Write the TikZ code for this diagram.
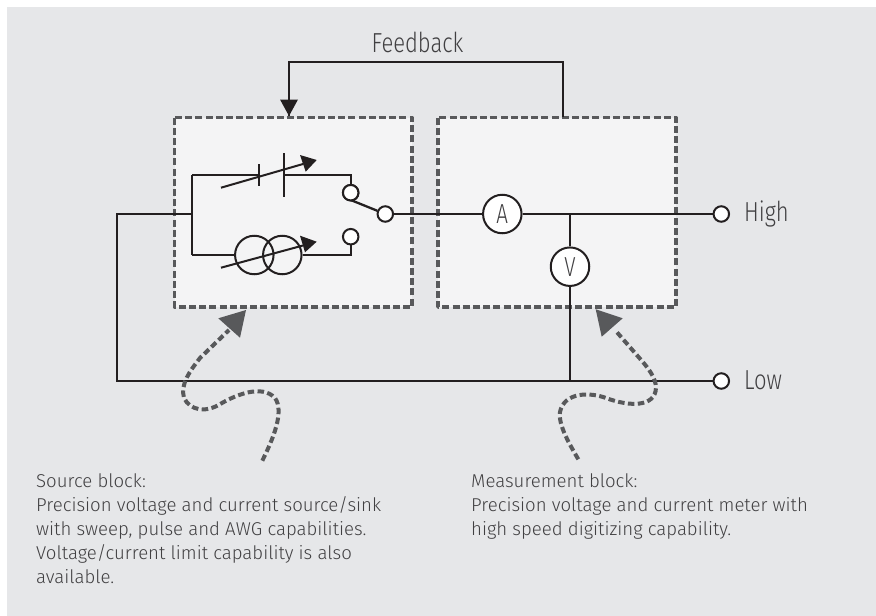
\documentclass[tikz,border=0pt]{standalone}
\usepackage{fontspec}
\setmainfont{Fira Sans}[UprightFont=* Light]
\usetikzlibrary{arrows.meta}
\definecolor{bgc}{HTML}{E6E7E9}
\definecolor{blockc}{HTML}{F4F4F5}
\definecolor{dashc}{HTML}{58595B}
\definecolor{wirec}{HTML}{231F20}
\definecolor{textc}{HTML}{414042}
\tikzset{
  x=1pt,y=-1pt,
  blockbox/.style={draw=dashc,fill=blockc,line width=3.6pt,dash pattern=on 7pt off 3.2pt,line join=round},
  wire/.style={draw=wirec,line width=2.3pt},
  terminal/.style={circle,draw=wirec,fill=white,line width=2pt,minimum size=15.5pt,inner sep=0pt},
  meter/.style={circle,draw=wirec,fill=white,line width=2pt,minimum size=38.5pt,inner sep=0pt,text=textc},
  coil/.style={circle,draw=wirec,line width=2pt,minimum size=38.5pt,inner sep=0pt},
  squiggle/.style={draw=dashc,line width=4pt,dash pattern=on 6.5pt off 3.4pt},
  headfill/.style={fill=dashc},
  tipfill/.style={fill=wirec},
  blurb/.style={anchor=north west,align=left,inner sep=0pt,text=textc,font=\fontsize{18.6}{24}\selectfont},
  cond/.style={text=textc,inner sep=0pt,font=\fontsize{27.5}{30}\selectfont},
}
\newcommand{\narrowtxt}[1]{\scalebox{0.8}[1]{#1}}
\begin{document}
\begin{tikzpicture}
\useasboundingbox (0,0) rectangle (876,616);
\fill[bgc] (7,7) rectangle (876,616);
% blocks
\path[blockbox] (174.5,117.5) rectangle (412,307);
\path[blockbox] (438,117.5) rectangle (676,307);
% named points
\node[terminal] (sw1) at (350.7,192.7) {};
\node[terminal] (sw2) at (350.7,236.7) {};
\node[terminal] (sw0) at (385.3,214) {};
\node[meter] (amm) at (502.3,214) {\fontsize{27.5}{30}\selectfont\scalebox{0.75}[1]{A}};
\node[meter] (vm) at (570,266.7) {\fontsize{27.5}{30}\selectfont\scalebox{0.75}[1]{V}};
\node[terminal] (hi) at (721.3,214) {};
\node[terminal] (lo) at (721.3,381) {};
\node[coil] (cs1) at (254.3,255) {};
\node[coil] (cs2) at (282.3,255) {};
\coordinate (jl) at (192.3,214);
\coordinate (jt) at (192.3,175);
\coordinate (jb) at (192.3,255);
\coordinate (outer) at (117,214);
\coordinate (outerb) at (117,381);
\coordinate (jh) at (570,214);
\coordinate (jv) at (570,381);
\coordinate (p1) at (259.3,175);
\coordinate (p2) at (284,175);
\coordinate (fbl) at (289,62);
\coordinate (fbr) at (563,62);
\coordinate (fbs) at (563,117);
\coordinate (fbt) at (289,116);
% wires
\draw[wire,line join=miter] (fbs) -- (fbr) -- (fbl) -- (fbt);
\fill[tipfill] (fbt) -- ++(-9,-16.5) -- ++(18,0) -- cycle;
\draw[wire] (jt) -- (p1);
\draw[wire] (259.3,164) -- (259.3,186);
\draw[wire] (284,153) -- (284,197);
\draw[wire] (p2) -- (350.7,175) -- (sw1);
\draw[wire] (sw2) -- (350.7,255) -- (cs2);
\draw[wire] (jb) -- (cs1);
\draw[wire,line join=miter] (jt) -- (jb);
\draw[wire,line join=miter] (jl) -- (outer) -- (outerb) -- (lo);
\draw[wire] (350.7,200) -- (sw0);
\draw[wire] (sw0) -- (amm);
\draw[wire] (amm) -- (hi);
\draw[wire] (jh) -- (vm);
\draw[wire] (vm) -- (jv);
\node[terminal] at (sw1) {};
% variable arrows
\draw[wire,line width=2pt] (221,187.7) -- (303,164);
\fill[tipfill] (316.7,160) -- (300,155) -- (305.7,171.7) -- cycle;
\draw[wire,line width=2pt] (221,267.7) -- (303,245.5);
\fill[tipfill] (316.7,241.7) -- (300,235.7) -- (305,252.3) -- cycle;
% squiggles
\coordinate (sqa) at (262.3,460.7);
\coordinate (sqat) at (229,330);
\coordinate (sqb) at (578.3,459.3);
\coordinate (sqbt) at (615,330);
\draw[squiggle] (sqa) .. controls (272,441) and (285,412) .. (275,398)
  .. controls (262,384) and (236,395) .. (222,403)
  .. controls (205,414) and (190,410) .. (184,398)
  .. controls (180,384) and (190,371) .. (200,358) -- (sqat);
\fill[headfill] (246,310) -- (218.3,318.3) -- (240,337.7) -- cycle;
\draw[squiggle] (sqb) .. controls (570,445) and (558,425) .. (560,412)
  .. controls (564,392) and (590,392) .. (606,398)
  .. controls (630,407) and (655,407) .. (656,388)
  .. controls (656,378) and (648,368) .. (642,361) -- (sqbt);
\fill[headfill] (595.7,309.3) -- (622.7,318.3) -- (601.7,336.7) -- cycle;
% labels
\node[cond] (fb) at (417.5,42) {\narrowtxt{Feedback}};
\node[cond,anchor=west] (hl) at (744,214) {\narrowtxt{High}};
\node[cond,anchor=west] (ll) at (744,380) {\narrowtxt{Low}};
\node[blurb] (src) at (36,473) {Source block:\\Precision voltage and current source/sink\\with sweep, pulse and AWG capabilities.\\Voltage/current limit capability is also\\available.};
\node[blurb] (mea) at (471,473) {Measurement block:\\Precision voltage and current meter with\\high speed digitizing capability.};
\end{tikzpicture}
\end{document}
